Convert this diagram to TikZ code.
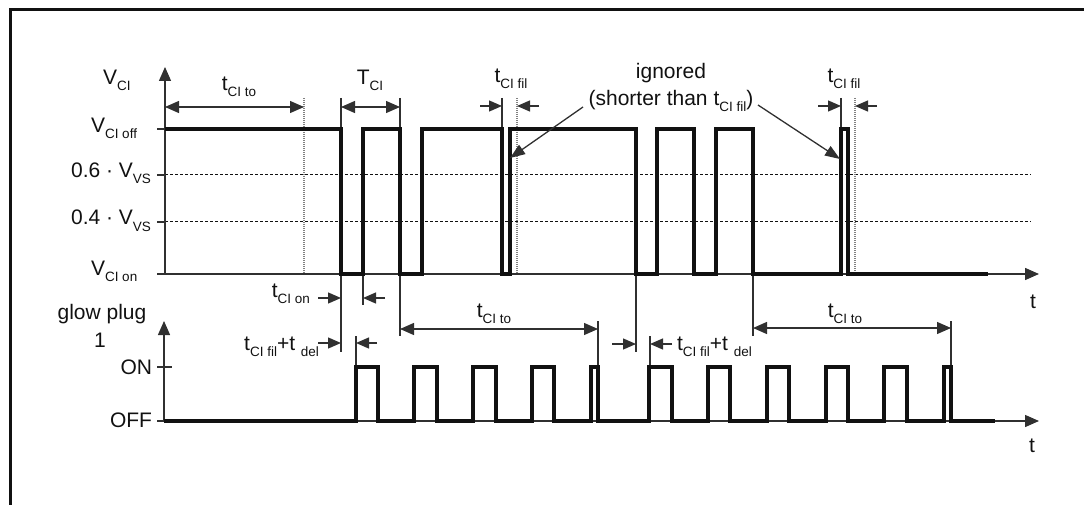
\documentclass[tikz,border=0pt]{standalone}
\usepackage{fontspec}
\setmainfont{Liberation Sans}
\usetikzlibrary{arrows.meta}
\newcommand\sbs[1]{\raisebox{-6pt}{\fontsize{13.5}{15}\selectfont #1}}
\definecolor{ink}{HTML}{111111}
\definecolor{thinc}{HTML}{303030}
\tikzset{
  sig/.style={line width=3.2pt, ink, line join=miter},
  thinl/.style={line width=1.3pt, thinc},
  dotl/.style={line width=1.2pt, gray, dash pattern=on 1pt off 1pt},
  dashl/.style={line width=1pt, ink, dash pattern=on 3pt off 2pt},
  axis/.style={line width=1.4pt, thinc, -{Triangle[length=14pt,width=12pt]}},
  dimboth/.style={thinl, {Triangle[length=14pt,width=12pt]}-{Triangle[length=14pt,width=12pt]}},
  dimone/.style={thinl, -{Triangle[length=13pt,width=11pt]}},
  lbl/.style={inner sep=0pt, outer sep=0pt, text=ink, font=\fontsize{21}{25}\selectfont},
}
\begin{document}
\begin{tikzpicture}[x=1pt,y=-1pt]
\useasboundingbox (0,0) rectangle (1084,505);
% frame
\draw[line width=3pt, ink] (10,506) -- (10,9.2) -- (1085,9.2);

% ---------- top chart ----------
\draw[dashl] (165,175) -- (1031,175);
\draw[dashl] (165,222) -- (1031,222);
\draw[thinl] (157,129) -- (165,129);
\draw[thinl] (157,175) -- (165,175);
\draw[thinl] (157,222) -- (165,222);
\draw[axis] (165,274) -- (165,67);
\draw[axis] (157,274) -- (1039,274);

% vertical reference lines
\draw[dotl] (304,98) -- (304,274);
\draw[thinl] (341,98) -- (341,352);
\draw[thinl] (400,98) -- (400,336);
\draw[thinl] (363,274) -- (363,305);
\draw[thinl] (502,98) -- (502,274);
\draw[dotl] (517,98) -- (517,274);
\draw[thinl] (636,274) -- (636,352);
\draw[thinl] (753,274) -- (753,336);
\draw[thinl] (841,98) -- (841,274);
\draw[dotl] (855,98) -- (855,274);

% top signal
\draw[sig] (165,129) -- (341,129) -- (341,274) -- (363,274) -- (363,129) -- (400,129)
  -- (400,274) -- (422,274) -- (422,129) -- (502,129) -- (502,274) -- (510,274)
  -- (510,129) -- (636,129) -- (636,274) -- (657,274) -- (657,129) -- (694,129)
  -- (694,274) -- (716,274) -- (716,129) -- (753,129) -- (753,274) -- (841,274)
  -- (841,129) -- (848,129) -- (848,274) -- (988,274);

% top dimension arrows
\draw[dimboth] (165,107) -- (304,107);
\draw[dimboth] (341,107) -- (400,107);
\draw[dimone] (480,106) -- (502,106);
\draw[dimone] (539,106) -- (517,106);
\draw[dimone] (818,106) -- (841,106);
\draw[dimone] (877,106) -- (855,106);
\draw[thinl, -{Triangle[length=15pt,width=11pt]}] (583,107) -- (510,158);
\draw[thinl, -{Triangle[length=15pt,width=11pt]}] (758,105) -- (840,159);

% top labels
\node[lbl, anchor=base west] (vci) at (103,85) {V\sbs{CI}};
\node[lbl, anchor=base west] (vcioff) at (91,133) {V\sbs{CI off}};
\node[lbl, anchor=base east] (v06) at (151,178) {0.6 · V\sbs{VS}};
\node[lbl, anchor=base east] (v04) at (151,225) {0.4 · V\sbs{VS}};
\node[lbl, anchor=base west] (vcion) at (91,275) {V\sbs{CI on}};
\node[lbl, anchor=base] (tto1) at (239,91) {t\sbs{CI to}};
\node[lbl, anchor=base] (Tci) at (370,85) {T\sbs{CI}};
\node[lbl, anchor=base] (tfil1) at (511,83) {t\sbs{CI fil}};
\node[lbl, anchor=base] (ign1) at (671,79) {ignored};
\node[lbl, anchor=base] (ign2) at (671,106) {(shorter than t\sbs{CI fil})};
\node[lbl, anchor=base] (tfil2) at (844,83) {t\sbs{CI fil}};
\node[lbl, anchor=base] (t1) at (1033,308) {t};

% ---------- lower annotations ----------
\draw[dimone] (318,298) -- (341,298);
\draw[dimone] (385,298) -- (363,298);
\node[lbl, anchor=base east] (tcion) at (310,297) {t\sbs{CI on}};

\draw[thinl] (356,336) -- (356,367);
\draw[dimone] (318,343) -- (341,343);
\draw[dimone] (377,343) -- (356,343);
\node[lbl, anchor=base east] (fd1) at (319,350) {t\sbs{CI fil}+t \sbs{del}};

\draw[thinl] (598,321) -- (598,367);
\draw[dimboth] (400,329) -- (598,329);
\node[lbl, anchor=base] (tto2) at (494,317) {t\sbs{CI to}};

\draw[thinl] (650,336) -- (650,367);
\draw[dimone] (612,344) -- (636,344);
\draw[dimone] (672,344) -- (650,344);
\node[lbl, anchor=base west] (fd2) at (677,350) {t\sbs{CI fil}+t \sbs{del}};

\draw[thinl] (951,321) -- (951,367);
\draw[dimboth] (753,328) -- (951,328);
\node[lbl, anchor=base] (tto3) at (845,317) {t\sbs{CI to}};

% ---------- lower chart ----------
\draw[thinl] (157,367) -- (172,367);
\draw[axis] (164,421) -- (164,321);
\draw[axis] (157,421) -- (1039,421);
\draw[sig] (164,421) -- (356,421) -- (356,367) -- (378,367) -- (378,421) -- (414,421)
  -- (414,367) -- (437,367) -- (437,421) -- (473,421) -- (473,367) -- (496,367)
  -- (496,421) -- (532,421) -- (532,367) -- (554,367) -- (554,421) -- (591,421)
  -- (591,367) -- (598,367) -- (598,421) -- (649,421) -- (649,367) -- (672,367)
  -- (672,421) -- (708,421) -- (708,367) -- (730,367) -- (730,421) -- (767,421)
  -- (767,367) -- (789,367) -- (789,421) -- (826,421) -- (826,367) -- (848,367)
  -- (848,421) -- (884,421) -- (884,367) -- (907,367) -- (907,421) -- (944,421)
  -- (944,367) -- (951,367) -- (951,421) -- (995,421);

\node[lbl, anchor=base] (glow) at (102,319) {glow plug};
\node[lbl, anchor=base] (one) at (100,347) {1};
\node[lbl, anchor=base east] (on) at (152,374) {ON};
\node[lbl, anchor=base east] (off) at (152,427) {OFF};
\node[lbl, anchor=base] (t2) at (1032,452) {t};
\end{tikzpicture}
\end{document}
